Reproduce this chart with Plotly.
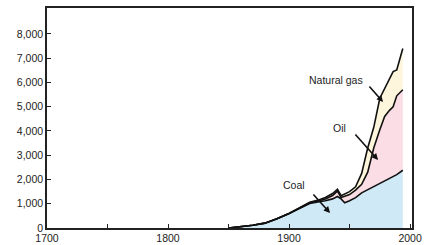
import plotly.graph_objects as go

years = [1850, 1860, 1870, 1880, 1890, 1900, 1910, 1917, 1925, 1930, 1936, 1940, 1943,
         1946, 1950, 1955, 1960, 1965, 1970, 1975, 1979, 1983, 1986, 1989, 1994]
coal = [0, 40, 110, 200, 380, 600, 830, 1010, 1080, 1120, 1200, 1300, 1200,
        1040, 1120, 1250, 1450, 1580, 1700, 1830, 1950, 2050, 2130, 2200, 2380]
oil = [0, 0, 0, 0, 0, 0, 10, 20, 40, 80, 140, 220, 60,
       260, 260, 310, 350, 720, 1600, 2220, 2650, 2800, 2870, 3250, 3320]
gas = [0, 0, 0, 0, 0, 0, 10, 30, 40, 60, 80, 80, 70,
       100, 120, 140, 450, 1000, 850, 1300, 1150, 1350, 1450, 1070, 1700]

x_tickvals = [1700, 1750, 1800, 1850, 1900, 1950, 2000]
x_ticktext = ["1700", "", "1800", "", "1900", "", "2000"]
y_tickvals = [0, 1000, 2000, 3000, 4000, 5000, 6000, 7000, 8000]

fig = go.Figure()
for name, vals, color in [("Coal", coal, "#cfe9f6"), ("Oil", oil, "#fbdde5"), ("Natural gas", gas, "#fdf6dc")]:
    fig.add_trace(go.Scatter(x=years, y=vals, name=name, stackgroup="one", mode="lines",
                             line=dict(color="#111111", width=1.6), fillcolor=color))

font = dict(family="Liberation Sans, Arial, sans-serif", size=10.5, color="#222222")

def px2data(px, py):
    return 1700 + (px - 47) / 1.21, (228 - py) / 0.02425

annos = []
for text, (tx, ty) in [("Natural gas", (336, 80)), ("Oil", (339, 128)), ("Coal", (294, 185))]:
    dx, dy = px2data(tx, ty)
    annos.append(dict(x=dx, y=dy, text=text, showarrow=False, font=font))
for (hx, hy), (tx, ty) in [((383, 102), (368, 85)), ((378, 160), (354, 133)), ((330, 213), (312, 193))]:
    dx, dy = px2data(hx, hy)
    annos.append(dict(x=dx, y=dy, text="", showarrow=True, arrowhead=2, arrowsize=0.8,
                      arrowwidth=1.6, arrowcolor="#111111", ax=tx - hx, ay=ty - hy))

fig.update_layout(
    width=425, height=245, margin=dict(l=47, r=13, t=8, b=17),
    paper_bgcolor="white", plot_bgcolor="white", showlegend=False,
    font=font, annotations=annos,
    xaxis=dict(range=[1700, 2001.6], tickvals=x_tickvals, ticktext=x_ticktext, automargin=False,
               ticks="inside", ticklen=4, tickcolor="#222222", showgrid=False, zeroline=False,
               showline=True, linecolor="#222222", linewidth=1.5, mirror=True),
    yaxis=dict(range=[0, 9070], tickvals=y_tickvals, tickformat=",d", automargin=False,
               ticks="inside", ticklen=4, tickcolor="#222222", showgrid=False, zeroline=False,
               showline=True, linecolor="#222222", linewidth=1.5, mirror=True),
)
fig.write_html("out.html", config={"displayModeBar": False},
               post_script="document.body.style.margin='0';document.body.style.overflow='hidden';")
